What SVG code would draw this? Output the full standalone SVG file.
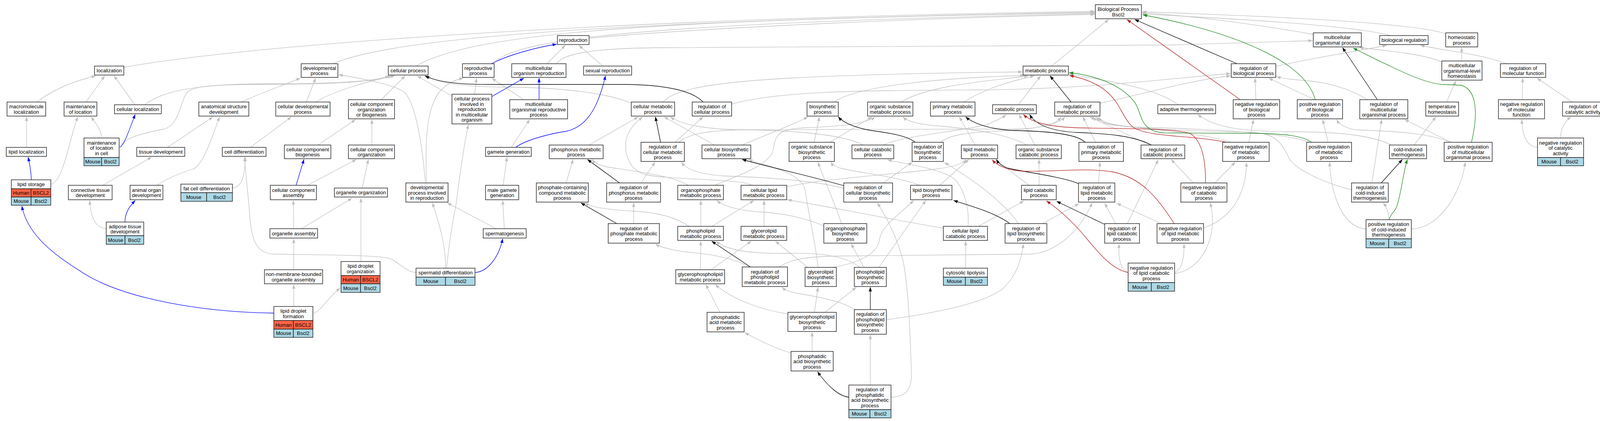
<svg xmlns="http://www.w3.org/2000/svg" width="4120" height="1077" viewBox="0 0 4120 1077">
<style>
.n rect{fill:#fff;stroke:#1a1a1a;stroke-width:1.4}
.n rect.h{fill:#ff6347}
.n rect.m{fill:#add8e6}
text{font-family:"Liberation Sans",Arial,sans-serif;font-size:13px;text-anchor:middle;dominant-baseline:central;fill:#000}
.e{fill:none;stroke-width:1.3}
.g{stroke:#c0c0c0;marker-end:url(#mg)}
.k{stroke:#000;marker-end:url(#mk)}
.r{stroke:#b22222;marker-end:url(#mr)}
.v{stroke:#228b22;marker-end:url(#mv)}
.b{stroke:#0000ff;marker-end:url(#mb)}
</style>
<defs>
<marker id="mg" viewBox="0 0 11 8" refX="10.5" refY="4" markerWidth="11" markerHeight="8" markerUnits="userSpaceOnUse" orient="auto"><path d="M0,0L11,4L0,8z" fill="#c0c0c0"/></marker>
<marker id="mk" viewBox="0 0 11 8" refX="10.5" refY="4" markerWidth="11" markerHeight="8" markerUnits="userSpaceOnUse" orient="auto"><path d="M0,0L11,4L0,8z" fill="#000"/></marker>
<marker id="mr" viewBox="0 0 11 8" refX="10.5" refY="4" markerWidth="11" markerHeight="8" markerUnits="userSpaceOnUse" orient="auto"><path d="M0,0L11,4L0,8z" fill="#b22222"/></marker>
<marker id="mv" viewBox="0 0 11 8" refX="10.5" refY="4" markerWidth="11" markerHeight="8" markerUnits="userSpaceOnUse" orient="auto"><path d="M0,0L11,4L0,8z" fill="#228b22"/></marker>
<marker id="mb" viewBox="0 0 11 8" refX="10.5" refY="4" markerWidth="11" markerHeight="8" markerUnits="userSpaceOnUse" orient="auto"><path d="M0,0L11,4L0,8z" fill="#0000ff"/></marker>
</defs>
<rect x="0" y="0" width="4120" height="1077" fill="#fff"/>
<g id="edges">
<path class="e g" d="M317,172 C700,105 1700,45 2802,29"/>
<path class="e g" d="M852,163 C1000,100 1500,55 2802,31"/>
<path class="e g" d="M1065,169 C1200,90 1600,50 2802,33"/>
<path class="e g" d="M1259,163 C1320,110 1500,62 2802,35"/>
<path class="e g" d="M1508,98 C1800,70 2400,45 2802,37"/>
<path class="e g" d="M2692,169 L2838,50"/>
<path class="e g" d="M3362,88 C3200,60 3050,40 2924,33"/>
<path class="e g" d="M3560,91 C3450,62 3100,45 2924,36"/>
<path class="e g" d="M3701,86 C3600,55 3200,40 2924,30"/>
<path class="e g" d="M1400,163 L1447,116"/>
<path class="e g" d="M1425,163 C1440,140 1500,123 1700,122 L3000,115 C3200,110 3300,106 3360,104"/>
<path class="e g" d="M1543,169 L1482,116"/>
<path class="e g" d="M3742,156 L3742,122"/>
<path class="e g" d="M3690,158 C3650,140 3560,130 3480,122"/>
<path class="e g" d="M3266,170 C3350,150 3480,130 3550,116"/>
<path class="e g" d="M3857,163 C3800,140 3700,130 3636,116"/>
<path class="e g" d="M3502,255 C3450,225 3400,210 3330,205 C3300,203 3280,200 3268,196"/>
<path class="e g" d="M3703,261 L3727,207"/>
<path class="e g" d="M3897,255 L3898,200"/>
<path class="e g" d="M4025,261 L3935,200"/>
<path class="e g" d="M3715,364 L3596,306"/>
<path class="e g" d="M3712,364 C3660,340 3560,335 3470,332 C3445,328 3428,318 3422,306"/>
<path class="e g" d="M95,261 C140,225 200,205 245,194"/>
<path class="e g" d="M220,261 L268,194"/>
<path class="e g" d="M345,268 L292,194"/>
<path class="e g" d="M371,267 C410,240 470,214 700,214 C900,214 965,205 997,194"/>
<path class="e g" d="M618,261 C650,245 720,220 769,200"/>
<path class="e g" d="M784,261 L808,200"/>
<path class="e g" d="M809,261 C850,235 930,210 1011,194"/>
<path class="e g" d="M976,255 L1037,194"/>
<path class="e g" d="M1157,246 L1068,194"/>
<path class="e g" d="M1215,241 L1220,200"/>
<path class="e g" d="M1341,255 L1259,200"/>
<path class="e g" d="M1616,264 C1560,240 1450,224 1300,223 C1180,222 1120,212 1092,194"/>
<path class="e g" d="M1697,261 C1740,215 1900,192 2617,184"/>
<path class="e g" d="M1873,266 C2000,232 2200,232 2500,230 C2800,228 3000,200 3150,188"/>
<path class="e g" d="M2136,261 C2200,215 2450,198 2622,193"/>
<path class="e g" d="M2307,261 C2380,215 2560,205 2632,194"/>
<path class="e g" d="M2469,261 C2520,225 2600,205 2648,194"/>
<path class="e g" d="M2607,268 L2664,194"/>
<path class="e g" d="M2816,264 C2950,235 3050,205 3150,194"/>
<path class="e g" d="M3016,268 C2960,225 2830,205 2737,190"/>
<path class="e g" d="M3215,255 L3213,200"/>
<path class="e g" d="M3365,255 L3248,200"/>
<path class="e g" d="M260,353 C259,330 245,315 233,299"/>
<path class="e g" d="M306,375 C320,350 380,338 420,330 C460,320 460,260 480,235 C500,218 560,216 700,216 C900,215 970,206 1003,194"/>
<path class="e g" d="M68,377 L68,299"/>
<path class="e g" d="M429,377 L545,299"/>
<path class="e g" d="M641,377 L746,299"/>
<path class="e g" d="M814,371 L910,306"/>
<path class="e g" d="M952,371 L952,306"/>
<path class="e g" d="M1309,377 L1356,306"/>
<path class="e g" d="M1508,371 L1634,299"/>
<path class="e g" d="M1728,364 L1800,299"/>
<path class="e g" d="M1737,364 C1760,345 1800,334 1900,332 L2600,330 C2680,328 2705,315 2716,299"/>
<path class="e g" d="M1829,371 L1700,299"/>
<path class="e g" d="M1900,371 C1960,345 2030,320 2068,299"/>
<path class="e g" d="M2084,364 L2098,299"/>
<path class="e g" d="M2125,364 L2232,299"/>
<path class="e g" d="M2210,371 C2150,340 2000,333 1900,332 C1800,331 1745,318 1716,299"/>
<path class="e g" d="M2261,371 C2320,345 2450,338 2520,320 C2550,310 2568,300 2575,293"/>
<path class="e g" d="M2408,364 C2430,345 2480,338 2560,335 C2650,331 2710,318 2726,299"/>
<path class="e g" d="M2496,371 L2456,299"/>
<path class="e g" d="M2629,371 C2580,345 2500,330 2400,322 C2350,318 2322,310 2312,299"/>
<path class="e g" d="M2649,371 L2609,293"/>
<path class="e g" d="M2805,364 L2772,299"/>
<path class="e g" d="M2943,371 L2790,299"/>
<path class="e g" d="M3152,364 C3100,345 2950,330 2850,320 C2820,315 2805,308 2798,299"/>
<path class="e g" d="M3197,364 L3209,306"/>
<path class="e g" d="M3358,366 C3300,340 3100,330 2900,325 C2840,320 2815,310 2806,299"/>
<path class="e g" d="M3400,364 L3386,306"/>
<path class="e g" d="M3562,371 C3510,345 3420,337 3300,337 C3150,337 3100,318 3066,293"/>
<path class="e g" d="M3620,371 L3676,299"/>
<path class="e g" d="M3936,377 C3910,375 3897,350 3896,306"/>
<path class="e g" d="M3995,353 C3995,330 4005,310 4022,299"/>
<path class="e g" d="M131,471 C150,468 165,420 178,370 C186,340 193,315 199,299"/>
<path class="e g" d="M263,474 L388,402"/>
<path class="e g" d="M402,474 C430,455 470,440 495,432 C520,420 540,360 562,299"/>
<path class="e g" d="M596,481 C615,479 627,460 628,402"/>
<path class="e g" d="M787,474 L912,408"/>
<path class="e g" d="M927,481 L943,408"/>
<path class="e g" d="M1089,468 C1082,380 1065,260 1033,234 C1000,214 920,200 867,191"/>
<path class="e g" d="M1092,468 C1088,370 1090,280 1125,235 C1145,212 1165,204 1186,200"/>
<path class="e g" d="M1288,474 L1298,402"/>
<path class="e g" d="M1449,468 L1467,408"/>
<path class="e g" d="M1641,468 L1677,415"/>
<path class="e g" d="M1762,474 C1720,450 1640,440 1560,428 C1535,424 1522,416 1515,408"/>
<path class="e g" d="M1829,474 C1900,445 1975,420 1980,380 C1985,340 2000,330 2060,327 C2150,323 2215,318 2240,299"/>
<path class="e g" d="M1925,474 C1900,457 1700,460 1650,446 C1605,432 1595,380 1605,350 C1615,322 1632,310 1645,299"/>
<path class="e g" d="M2014,478 C2100,458 2300,445 2400,432 C2450,425 2468,416 2473,408"/>
<path class="e g" d="M2261,468 L2335,415"/>
<path class="e g" d="M2160,482 C2100,465 2000,455 1850,450 C1780,445 1755,430 1745,415"/>
<path class="e g" d="M2406,474 L2480,408"/>
<path class="e g" d="M2355,474 C2300,452 2200,442 2150,430 C2138,425 2130,420 2127,415"/>
<path class="e g" d="M2634,474 L2548,408"/>
<path class="e g" d="M2660,474 L2660,408"/>
<path class="e g" d="M2812,468 L2816,415"/>
<path class="e g" d="M3055,468 L2998,408"/>
<path class="e g" d="M3110,468 L3162,415"/>
<path class="e g" d="M3512,468 L3537,306"/>
<path class="e g" d="M3460,485 C3420,478 3320,440 3300,405 C3280,360 3260,340 3200,338 C3050,335 2900,330 2840,316 C2825,312 2816,306 2812,299"/>
<path class="e g" d="M272,585 C245,582 232,560 230,513"/>
<path class="e g" d="M772,585 L901,507"/>
<path class="e g" d="M752,585 L751,513"/>
<path class="e g" d="M1291,585 L1287,513"/>
<path class="e g" d="M1270,585 L1145,519"/>
<path class="e g" d="M1622,572 L1622,519"/>
<path class="e g" d="M1764,579 C1730,555 1680,543 1620,540 C1550,536 1515,530 1497,519"/>
<path class="e g" d="M1794,579 L1794,513"/>
<path class="e g" d="M1822,579 L1930,513"/>
<path class="e g" d="M1956,579 L1956,513"/>
<path class="e g" d="M2109,578 C2060,556 2000,546 1960,543 C1900,540 1857,530 1835,513"/>
<path class="e g" d="M2154,572 C2145,540 2110,460 2094,415"/>
<path class="e g" d="M2415,584 C2250,555 2100,525 2016,511"/>
<path class="e g" d="M2478,579 C2482,540 2470,480 2440,455 C2400,430 2320,420 2272,409"/>
<path class="e g" d="M2505,579 L2621,514"/>
<path class="e g" d="M2607,572 C2580,530 2510,470 2418,416"/>
<path class="e g" d="M2669,572 L2762,521"/>
<path class="e g" d="M2856,572 L2828,520"/>
<path class="e g" d="M2886,572 L2965,409"/>
<path class="e g" d="M2973,572 L2859,520"/>
<path class="e g" d="M3081,583 C3150,560 3190,500 3191,416"/>
<path class="e g" d="M3556,562 C3555,545 3550,530 3541,519"/>
<path class="e g" d="M3614,586 C3680,585 3740,500 3751,415"/>
<path class="e g" d="M3497,586 C3430,580 3405,480 3404,415"/>
<path class="e g" d="M752,690 L752,611"/>
<path class="e g" d="M924,669 L924,507"/>
<path class="e g" d="M1141,686 C1141,620 1120,560 1107,519"/>
<path class="e g" d="M1143,686 C1150,620 1160,560 1168,520 C1178,440 1190,360 1199,319"/>
<path class="e g" d="M1065,697 C1040,697 1020,668 993,660 C950,652 800,652 700,650 C660,648 645,620 640,560 C636,500 628,440 626,402"/>
<path class="e g" d="M1793,690 L1794,617"/>
<path class="e g" d="M1820,690 L1923,617"/>
<path class="e g" d="M1918,683 C1880,660 1820,650 1760,645 C1720,640 1690,632 1678,624"/>
<path class="e g" d="M1993,684 C2020,665 2060,656 2150,655 L2640,650 C2700,645 2760,600 2796,519"/>
<path class="e g" d="M2068,684 L1985,617"/>
<path class="e g" d="M2132,684 C2200,672 2248,650 2252,610 C2258,578 2300,550 2339,513"/>
<path class="e g" d="M2094,684 C2088,620 2068,540 2062,490 C2055,440 1960,425 1916,408"/>
<path class="e g" d="M2201,684 C2170,657 2110,646 2020,648 C1920,650 1860,640 1833,617"/>
<path class="e g" d="M2212,684 L2179,624"/>
<path class="e g" d="M2250,684 L2370,513"/>
<path class="e g" d="M2472,686 L2472,617"/>
<path class="e g" d="M2888,697 C2868,690 2862,660 2865,624"/>
<path class="e g" d="M3007,697 C3025,692 3032,660 3031,624"/>
<path class="e g" d="M3007,700 C3080,690 3120,600 3098,519"/>
<path class="e g" d="M752,784 L752,728"/>
<path class="e g" d="M803,801 C820,798 840,760 871,737"/>
<path class="e g" d="M1843,799 L1807,728"/>
<path class="e g" d="M2017,803 C1960,795 1880,770 1831,728"/>
<path class="e g" d="M2085,799 L2094,735"/>
<path class="e g" d="M2112,799 L2192,735"/>
<path class="e g" d="M2188,792 C2160,772 2100,760 2050,752 C2025,748 2010,742 2002,735"/>
<path class="e g" d="M2269,818 C2400,800 2520,775 2565,740 C2605,705 2615,660 2620,624"/>
<path class="e g" d="M2079,899 L2079,850"/>
<path class="e g" d="M2025,903 C1990,893 1945,872 1907,851"/>
<path class="e g" d="M2228,985 L2228,857"/>
<path class="e g" d="M2282,1016 C2325,1015 2335,990 2333,950 C2330,850 2325,720 2310,660 C2290,590 2265,550 2246,519"/>
<path class="e k" d="M3167,163 L2905,50"/>
<path class="e k" d="M3526,255 L3437,122"/>
<path class="e k" d="M1800,261 C1770,230 1700,217 1600,216 L1250,216 C1150,216 1110,205 1088,194"/>
<path class="e k" d="M2742,261 L2688,194"/>
<path class="e k" d="M1691,364 L1678,299"/>
<path class="e k" d="M2343,364 C2320,345 2260,338 2225,333 C2190,326 2160,315 2146,299"/>
<path class="e k" d="M2778,364 C2760,345 2700,336 2600,334 C2540,332 2495,318 2472,299"/>
<path class="e k" d="M2948,371 C2900,346 2830,342 2760,339 C2690,336 2650,318 2636,293"/>
<path class="e k" d="M1586,468 L1504,408"/>
<path class="e k" d="M2160,475 C2080,452 1980,430 1900,408"/>
<path class="e k" d="M2762,470 C2720,452 2620,440 2580,430 C2565,425 2556,418 2551,408"/>
<path class="e k" d="M3536,468 L3590,408"/>
<path class="e k" d="M1579,572 L1487,519"/>
<path class="e k" d="M2585,572 C2550,545 2480,525 2441,513"/>
<path class="e k" d="M2828,574 L2705,515"/>
<path class="e k" d="M1921,683 L1822,617"/>
<path class="e k" d="M2228,792 L2228,735"/>
<path class="e k" d="M2173,1016 C2150,1014 2120,990 2093,951"/>
<path class="e r" d="M3175,255 L2885,50"/>
<path class="e r" d="M3140,364 C3050,345 2940,352 2900,325 C2860,290 2870,220 2738,193"/>
<path class="e r" d="M3086,468 C3087,420 3080,360 3046,341 C3000,328 2900,330 2760,327 C2680,324 2640,312 2620,293"/>
<path class="e r" d="M3006,572 C2960,500 2920,455 2850,440 C2780,428 2700,440 2620,438 C2580,436 2555,425 2540,409"/>
<path class="e r" d="M2888,697 C2850,690 2820,655 2790,620 C2750,570 2710,535 2679,514"/>
<path class="e v" d="M3367,255 C3345,170 3200,90 2926,38"/>
<path class="e v" d="M3358,364 C3330,345 3280,342 3200,341 L2980,340 C2915,335 2925,290 2905,262 C2870,215 2800,192 2737,186"/>
<path class="e v" d="M3767,364 C3782,300 3785,230 3740,218 L3690,216 C3640,212 3560,170 3464,123"/>
<path class="e v" d="M3556,562 C3560,545 3575,540 3578,520 C3590,480 3592,440 3603,408"/>
<path class="e b" d="M80,460 C80,440 76,420 72,402"/>
<path class="e b" d="M307,377 C318,370 328,340 346,293"/>
<path class="e b" d="M320,567 C320,545 330,530 346,513"/>
<path class="e b" d="M758,474 L778,408"/>
<path class="e b" d="M1259,163 C1300,140 1380,120 1425,113"/>
<path class="e b" d="M1259,247 L1341,200"/>
<path class="e b" d="M1380,255 L1380,200"/>
<path class="e b" d="M1320,377 C1350,355 1420,340 1449,336 C1500,325 1530,280 1550,194"/>
<path class="e b" d="M1217,697 C1245,695 1275,665 1287,611"/>
<path class="e b" d="M701,801 C500,798 300,760 200,690 C120,640 68,590 56,527"/>
</g>
<g id="bp" class="n"><rect x="2804" y="12" width="118" height="36"/><text><tspan x="2863" y="23.25">Biological Process</tspan><tspan x="2863" y="36.75">Bscl2</tspan></text></g>
<g id="reproduction" class="n"><rect x="1427" y="91" width="81" height="23"/><text x="1467.5" y="102.5">reproduction</text></g>
<g id="multicellular-organismal-process" class="n"><rect x="3362" y="84" width="123" height="36"/><text><tspan x="3423.5" y="95.25">multicellular</tspan><tspan x="3423.5" y="108.75">organismal process</tspan></text></g>
<g id="biological-regulation" class="n"><rect x="3532" y="91" width="124" height="23"/><text x="3594" y="102.5">biological regulation</text></g>
<g id="homeostatic-process" class="n"><rect x="3701" y="84" width="82" height="36"/><text><tspan x="3742" y="95.25">homeostatic</tspan><tspan x="3742" y="108.75">process</tspan></text></g>
<g id="localization" class="n"><rect x="242" y="169" width="75" height="23"/><text x="279.5" y="180.5">localization</text></g>
<g id="developmental-process" class="n"><rect x="771" y="163" width="94" height="35"/><text><tspan x="818" y="173.75">developmental</tspan><tspan x="818" y="187.25">process</tspan></text></g>
<g id="cellular-process" class="n"><rect x="994" y="169" width="102" height="23"/><text x="1045" y="180.5">cellular process</text></g>
<g id="reproductive-process" class="n"><rect x="1184" y="163" width="81" height="35"/><text><tspan x="1224.5" y="173.75">reproductive</tspan><tspan x="1224.5" y="187.25">process</tspan></text></g>
<g id="multicellular-organism-reproduction" class="n"><rect x="1310" y="163" width="139" height="35"/><text><tspan x="1379.5" y="173.75">multicellular</tspan><tspan x="1379.5" y="187.25">organism reproduction</tspan></text></g>
<g id="sexual-reproduction" class="n"><rect x="1494" y="169" width="123" height="23"/><text x="1555.5" y="180.5">sexual reproduction</text></g>
<g id="metabolic-process" class="n"><rect x="2619" y="169" width="116" height="23"/><text x="2677" y="180.5">metabolic process</text></g>
<g id="regulation-of-biological-process" class="n"><rect x="3152" y="163" width="114" height="35"/><text><tspan x="3209" y="173.75">regulation of</tspan><tspan x="3209" y="187.25">biological process</tspan></text></g>
<g id="multicellular-organismal-level-homeostasis" class="n"><rect x="3691" y="156" width="103" height="49"/><text><tspan x="3742.5" y="167">multicellular</tspan><tspan x="3742.5" y="180.5">organismal-level</tspan><tspan x="3742.5" y="194">homeostasis</tspan></text></g>
<g id="regulation-of-molecular-function" class="n"><rect x="3841" y="163" width="116" height="35"/><text><tspan x="3899" y="173.75">regulation of</tspan><tspan x="3899" y="187.25">molecular function</tspan></text></g>
<g id="macromolecule-localization" class="n"><rect x="18" y="261" width="99" height="36"/><text><tspan x="67.5" y="272.25">macromolecule</tspan><tspan x="67.5" y="285.75">localization</tspan></text></g>
<g id="maintenance-of-location" class="n"><rect x="164" y="261" width="84" height="36"/><text><tspan x="206" y="272.25">maintenance</tspan><tspan x="206" y="285.75">of location</tspan></text></g>
<g id="cellular-localization" class="n"><rect x="293" y="268" width="120" height="23"/><text x="353" y="279.5">cellular localization</text></g>
<g id="anatomical-structure-development" class="n"><rect x="509" y="261" width="128" height="36"/><text><tspan x="573" y="272.25">anatomical structure</tspan><tspan x="573" y="285.75">development</tspan></text></g>
<g id="cellular-developmental-process" class="n"><rect x="706" y="261" width="139" height="36"/><text><tspan x="775.5" y="272.25">cellular developmental</tspan><tspan x="775.5" y="285.75">process</tspan></text></g>
<g id="cellular-component-organization-or-biogenesis" class="n"><rect x="892" y="255" width="118" height="49"/><text><tspan x="951" y="266">cellular component</tspan><tspan x="951" y="279.5">organization</tspan><tspan x="951" y="293">or biogenesis</tspan></text></g>
<g id="cellular-process-involved-in-reproduction" class="n"><rect x="1157" y="241" width="102" height="76"/><text><tspan x="1208" y="252">cellular process</tspan><tspan x="1208" y="265.5">involved in</tspan><tspan x="1208" y="279">reproduction</tspan><tspan x="1208" y="292.5">in multicellular</tspan><tspan x="1208" y="306">organism</tspan></text></g>
<g id="multicellular-organismal-reproductive-process" class="n"><rect x="1305" y="255" width="148" height="49"/><text><tspan x="1379" y="266">multicellular</tspan><tspan x="1379" y="279.5">organismal reproductive</tspan><tspan x="1379" y="293">process</tspan></text></g>
<g id="cellular-metabolic-process" class="n"><rect x="1616" y="261" width="111" height="36"/><text><tspan x="1671.5" y="272.25">cellular metabolic</tspan><tspan x="1671.5" y="285.75">process</tspan></text></g>
<g id="regulation-of-cellular-process" class="n"><rect x="1772" y="261" width="101" height="36"/><text><tspan x="1822.5" y="272.25">regulation of</tspan><tspan x="1822.5" y="285.75">cellular process</tspan></text></g>
<g id="biosynthetic-process" class="n"><rect x="2066" y="261" width="80" height="36"/><text><tspan x="2106" y="272.25">biosynthetic</tspan><tspan x="2106" y="285.75">process</tspan></text></g>
<g id="organic-substance-metabolic-process" class="n"><rect x="2221" y="261" width="116" height="36"/><text><tspan x="2279" y="272.25">organic substance</tspan><tspan x="2279" y="285.75">metabolic process</tspan></text></g>
<g id="primary-metabolic-process" class="n"><rect x="2382" y="261" width="114" height="36"/><text><tspan x="2439" y="272.25">primary metabolic</tspan><tspan x="2439" y="285.75">process</tspan></text></g>
<g id="catabolic-process" class="n"><rect x="2541" y="268" width="112" height="23"/><text x="2597" y="279.5">catabolic process</text></g>
<g id="regulation-of-metabolic-process" class="n"><rect x="2700" y="261" width="116" height="36"/><text><tspan x="2758" y="272.25">regulation of</tspan><tspan x="2758" y="285.75">metabolic process</tspan></text></g>
<g id="adaptive-thermogenesis" class="n"><rect x="2964" y="268" width="148" height="23"/><text x="3038" y="279.5">adaptive thermogenesis</text></g>
<g id="negative-regulation-of-biological-process" class="n"><rect x="3157" y="255" width="119" height="49"/><text><tspan x="3216.5" y="266">negative regulation</tspan><tspan x="3216.5" y="279.5">of biological</tspan><tspan x="3216.5" y="293">process</tspan></text></g>
<g id="positive-regulation-of-biological-process" class="n"><rect x="3321" y="255" width="116" height="49"/><text><tspan x="3379" y="266">positive regulation</tspan><tspan x="3379" y="279.5">of biological</tspan><tspan x="3379" y="293">process</tspan></text></g>
<g id="regulation-of-multicellular-organismal-process" class="n"><rect x="3481" y="255" width="123" height="49"/><text><tspan x="3542.5" y="266">regulation of</tspan><tspan x="3542.5" y="279.5">multicellular</tspan><tspan x="3542.5" y="293">organismal process</tspan></text></g>
<g id="temperature-homeostasis" class="n"><rect x="3650" y="261" width="84" height="36"/><text><tspan x="3692" y="272.25">temperature</tspan><tspan x="3692" y="285.75">homeostasis</tspan></text></g>
<g id="negative-regulation-of-molecular-function" class="n"><rect x="3836" y="255" width="118" height="49"/><text><tspan x="3895" y="266">negative regulation</tspan><tspan x="3895" y="279.5">of molecular</tspan><tspan x="3895" y="293">function</tspan></text></g>
<g id="regulation-of-catalytic-activity" class="n"><rect x="4000" y="261" width="105" height="36"/><text><tspan x="4052.5" y="272.25">regulation of</tspan><tspan x="4052.5" y="285.75">catalytic activity</tspan></text></g>
<g id="maintenance-of-location-in-cell" class="n"><rect x="215" y="353" width="90" height="50"/><rect class="m" x="215" y="403" width="45" height="21"/><rect class="m" x="260" y="403" width="45" height="21"/><text><tspan x="260" y="364.5">maintenance</tspan><tspan x="260" y="378">of location</tspan><tspan x="260" y="391.5">in cell</tspan></text><text x="237.5" y="413.5">Mouse</text><text x="282.5" y="413.5">Bscl2</text></g>
<g id="lipid-localization" class="n"><rect x="16" y="377" width="103" height="23"/><text x="67.5" y="388.5">lipid localization</text></g>
<g id="tissue-development" class="n"><rect x="350" y="377" width="123" height="23"/><text x="411.5" y="388.5">tissue development</text></g>
<g id="cell-differentiation" class="n"><rect x="569" y="377" width="112" height="23"/><text x="625" y="388.5">cell differentiation</text></g>
<g id="cellular-component-biogenesis" class="n"><rect x="728" y="371" width="119" height="35"/><text><tspan x="787.5" y="381.75">cellular component</tspan><tspan x="787.5" y="395.25">biogenesis</tspan></text></g>
<g id="cellular-component-organization" class="n"><rect x="892" y="371" width="118" height="35"/><text><tspan x="951" y="381.75">cellular component</tspan><tspan x="951" y="395.25">organization</tspan></text></g>
<g id="gamete-generation" class="n"><rect x="1243" y="377" width="117" height="23"/><text x="1301.5" y="388.5">gamete generation</text></g>
<g id="phosphorus-metabolic-process" class="n"><rect x="1406" y="371" width="138" height="35"/><text><tspan x="1475" y="381.75">phosphorus metabolic</tspan><tspan x="1475" y="395.25">process</tspan></text></g>
<g id="regulation-of-cellular-metabolic-process" class="n"><rect x="1641" y="364" width="111" height="49"/><text><tspan x="1696.5" y="375">regulation of</tspan><tspan x="1696.5" y="388.5">cellular metabolic</tspan><tspan x="1696.5" y="402">process</tspan></text></g>
<g id="cellular-biosynthetic-process" class="n"><rect x="1797" y="371" width="125" height="35"/><text><tspan x="1859.5" y="381.75">cellular biosynthetic</tspan><tspan x="1859.5" y="395.25">process</tspan></text></g>
<g id="organic-substance-biosynthetic-process" class="n"><rect x="2020" y="364" width="116" height="49"/><text><tspan x="2078" y="375">organic substance</tspan><tspan x="2078" y="388.5">biosynthetic</tspan><tspan x="2078" y="402">process</tspan></text></g>
<g id="cellular-catabolic-process" class="n"><rect x="2181" y="371" width="107" height="35"/><text><tspan x="2234.5" y="381.75">cellular catabolic</tspan><tspan x="2234.5" y="395.25">process</tspan></text></g>
<g id="regulation-of-biosynthetic-process" class="n"><rect x="2335" y="364" width="80" height="49"/><text><tspan x="2375" y="375">regulation of</tspan><tspan x="2375" y="388.5">biosynthetic</tspan><tspan x="2375" y="402">process</tspan></text></g>
<g id="lipid-metabolic-process" class="n"><rect x="2461" y="371" width="93" height="35"/><text><tspan x="2507.5" y="381.75">lipid metabolic</tspan><tspan x="2507.5" y="395.25">process</tspan></text></g>
<g id="organic-substance-catabolic-process" class="n"><rect x="2601" y="371" width="116" height="35"/><text><tspan x="2659" y="381.75">organic substance</tspan><tspan x="2659" y="395.25">catabolic process</tspan></text></g>
<g id="regulation-of-primary-metabolic-process" class="n"><rect x="2762" y="364" width="114" height="49"/><text><tspan x="2819" y="375">regulation of</tspan><tspan x="2819" y="388.5">primary metabolic</tspan><tspan x="2819" y="402">process</tspan></text></g>
<g id="regulation-of-catabolic-process" class="n"><rect x="2921" y="371" width="112" height="35"/><text><tspan x="2977" y="381.75">regulation of</tspan><tspan x="2977" y="395.25">catabolic process</tspan></text></g>
<g id="negative-regulation-of-metabolic-process" class="n"><rect x="3130" y="364" width="119" height="49"/><text><tspan x="3189.5" y="375">negative regulation</tspan><tspan x="3189.5" y="388.5">of metabolic</tspan><tspan x="3189.5" y="402">process</tspan></text></g>
<g id="positive-regulation-of-metabolic-process" class="n"><rect x="3345" y="364" width="115" height="49"/><text><tspan x="3402.5" y="375">positive regulation</tspan><tspan x="3402.5" y="388.5">of metabolic</tspan><tspan x="3402.5" y="402">process</tspan></text></g>
<g id="cold-induced-thermogenesis" class="n"><rect x="3557" y="371" width="95" height="35"/><text><tspan x="3604.5" y="381.75">cold-induced</tspan><tspan x="3604.5" y="395.25">thermogenesis</tspan></text></g>
<g id="positive-regulation-of-multicellular-organismal-process" class="n"><rect x="3697" y="364" width="123" height="49"/><text><tspan x="3758.5" y="375">positive regulation</tspan><tspan x="3758.5" y="388.5">of multicellular</tspan><tspan x="3758.5" y="402">organismal process</tspan></text></g>
<g id="negative-regulation-of-catalytic-activity" class="n"><rect x="3936" y="353" width="118" height="50"/><rect class="m" x="3936" y="403" width="59" height="21"/><rect class="m" x="3995" y="403" width="59" height="21"/><text><tspan x="3995" y="364.5">negative regulation</tspan><tspan x="3995" y="378">of catalytic</tspan><tspan x="3995" y="391.5">activity</tspan></text><text x="3965.5" y="413.5">Mouse</text><text x="4024.5" y="413.5">Bscl2</text></g>
<g id="lipid-storage" class="n"><rect x="29" y="460" width="101" height="23"/><rect class="h" x="29" y="483" width="50.5" height="21"/><rect class="h" x="79.5" y="483" width="50.5" height="21"/><rect class="m" x="29" y="504" width="50.5" height="21"/><rect class="m" x="79.5" y="504" width="50.5" height="21"/><text x="79.5" y="471.5">lipid storage</text><text x="54.25" y="493.5">Human</text><text x="104.75" y="493.5">BSCL2</text><text x="54.25" y="514.5">Mouse</text><text x="104.75" y="514.5">Bscl2</text></g>
<g id="connective-tissue-development" class="n"><rect x="175" y="474" width="112" height="37"/><text><tspan x="231" y="485.75">connective tissue</tspan><tspan x="231" y="499.25">development</tspan></text></g>
<g id="animal-organ-development" class="n"><rect x="333" y="474" width="84" height="37"/><text><tspan x="375" y="485.75">animal organ</tspan><tspan x="375" y="499.25">development</tspan></text></g>
<g id="fat-cell-differentiation" class="n"><rect x="463" y="471" width="132" height="22"/><rect class="m" x="463" y="493" width="66" height="22"/><rect class="m" x="529" y="493" width="66" height="22"/><text x="529" y="482">fat cell differentiation</text><text x="496" y="504">Mouse</text><text x="562" y="504">Bscl2</text></g>
<g id="cellular-component-assembly" class="n"><rect x="692" y="474" width="118" height="37"/><text><tspan x="751" y="485.75">cellular component</tspan><tspan x="751" y="499.25">assembly</tspan></text></g>
<g id="organelle-organization" class="n"><rect x="856" y="481" width="136" height="23"/><text x="924" y="492.5">organelle organization</text></g>
<g id="developmental-process-involved-in-reproduction" class="n"><rect x="1039" y="468" width="108" height="49"/><text><tspan x="1093" y="479">developmental</tspan><tspan x="1093" y="492.5">process involved</tspan><tspan x="1093" y="506">in reproduction</tspan></text></g>
<g id="male-gamete-generation" class="n"><rect x="1243" y="474" width="85" height="37"/><text><tspan x="1285.5" y="485.75">male gamete</tspan><tspan x="1285.5" y="499.25">generation</tspan></text></g>
<g id="phosphate-containing-compound-metabolic-process" class="n"><rect x="1373" y="468" width="133" height="49"/><text><tspan x="1439.5" y="479">phosphate-containing</tspan><tspan x="1439.5" y="492.5">compound metabolic</tspan><tspan x="1439.5" y="506">process</tspan></text></g>
<g id="regulation-of-phosphorus-metabolic-process" class="n"><rect x="1553" y="468" width="138" height="49"/><text><tspan x="1622" y="479">regulation of</tspan><tspan x="1622" y="492.5">phosphorus metabolic</tspan><tspan x="1622" y="506">process</tspan></text></g>
<g id="organophosphate-metabolic-process" class="n"><rect x="1735" y="474" width="117" height="37"/><text><tspan x="1793.5" y="485.75">organophosphate</tspan><tspan x="1793.5" y="499.25">metabolic process</tspan></text></g>
<g id="cellular-lipid-metabolic-process" class="n"><rect x="1897" y="474" width="117" height="37"/><text><tspan x="1955.5" y="485.75">cellular lipid</tspan><tspan x="1955.5" y="499.25">metabolic process</tspan></text></g>
<g id="regulation-of-cellular-biosynthetic-process" class="n"><rect x="2160" y="468" width="125" height="49"/><text><tspan x="2222.5" y="479">regulation of</tspan><tspan x="2222.5" y="492.5">cellular biosynthetic</tspan><tspan x="2222.5" y="506">process</tspan></text></g>
<g id="lipid-biosynthetic-process" class="n"><rect x="2331" y="474" width="106" height="37"/><text><tspan x="2384" y="485.75">lipid biosynthetic</tspan><tspan x="2384" y="499.25">process</tspan></text></g>
<g id="lipid-catabolic-process" class="n"><rect x="2615" y="474" width="89" height="37"/><text><tspan x="2659.5" y="485.75">lipid catabolic</tspan><tspan x="2659.5" y="499.25">process</tspan></text></g>
<g id="regulation-of-lipid-metabolic-process" class="n"><rect x="2761" y="468" width="93" height="49"/><text><tspan x="2807.5" y="479">regulation of</tspan><tspan x="2807.5" y="492.5">lipid metabolic</tspan><tspan x="2807.5" y="506">process</tspan></text></g>
<g id="negative-regulation-of-catabolic-process" class="n"><rect x="3023" y="468" width="118" height="49"/><text><tspan x="3082" y="479">negative regulation</tspan><tspan x="3082" y="492.5">of catabolic</tspan><tspan x="3082" y="506">process</tspan></text></g>
<g id="regulation-of-cold-induced-thermogenesis" class="n"><rect x="3460" y="468" width="94" height="49"/><text><tspan x="3507" y="479">regulation of</tspan><tspan x="3507" y="492.5">cold-induced</tspan><tspan x="3507" y="506">thermogenesis</tspan></text></g>
<g id="adipose-tissue-development" class="n"><rect x="272" y="568" width="96" height="35"/><rect class="m" x="272" y="603" width="48" height="22"/><rect class="m" x="320" y="603" width="48" height="22"/><text><tspan x="320" y="578.75">adipose tissue</tspan><tspan x="320" y="592.25">development</tspan></text><text x="296" y="614">Mouse</text><text x="344" y="614">Bscl2</text></g>
<g id="organelle-assembly" class="n"><rect x="691" y="585" width="122" height="24"/><text x="752" y="597">organelle assembly</text></g>
<g id="spermatogenesis" class="n"><rect x="1237" y="585" width="110" height="24"/><text x="1292" y="597">spermatogenesis</text></g>
<g id="regulation-of-phosphate-metabolic-process" class="n"><rect x="1557" y="572" width="131" height="50"/><text><tspan x="1622.5" y="583.5">regulation of</tspan><tspan x="1622.5" y="597">phosphate metabolic</tspan><tspan x="1622.5" y="610.5">process</tspan></text></g>
<g id="phospholipid-metabolic-process" class="n"><rect x="1735" y="579" width="117" height="36"/><text><tspan x="1793.5" y="590.25">phospholipid</tspan><tspan x="1793.5" y="603.75">metabolic process</tspan></text></g>
<g id="glycerolipid-metabolic-process" class="n"><rect x="1897" y="579" width="117" height="36"/><text><tspan x="1955.5" y="590.25">glycerolipid</tspan><tspan x="1955.5" y="603.75">metabolic process</tspan></text></g>
<g id="organophosphate-biosynthetic-process" class="n"><rect x="2109" y="572" width="110" height="50"/><text><tspan x="2164" y="583.5">organophosphate</tspan><tspan x="2164" y="597">biosynthetic</tspan><tspan x="2164" y="610.5">process</tspan></text></g>
<g id="cellular-lipid-catabolic-process" class="n"><rect x="2415" y="579" width="113" height="36"/><text><tspan x="2471.5" y="590.25">cellular lipid</tspan><tspan x="2471.5" y="603.75">catabolic process</tspan></text></g>
<g id="regulation-of-lipid-biosynthetic-process" class="n"><rect x="2573" y="572" width="107" height="50"/><text><tspan x="2626.5" y="583.5">regulation of</tspan><tspan x="2626.5" y="597">lipid biosynthetic</tspan><tspan x="2626.5" y="610.5">process</tspan></text></g>
<g id="regulation-of-lipid-catabolic-process" class="n"><rect x="2828" y="572" width="89" height="50"/><text><tspan x="2872.5" y="583.5">regulation of</tspan><tspan x="2872.5" y="597">lipid catabolic</tspan><tspan x="2872.5" y="610.5">process</tspan></text></g>
<g id="negative-regulation-of-lipid-metabolic-process" class="n"><rect x="2962" y="572" width="119" height="50"/><text><tspan x="3021.5" y="583.5">negative regulation</tspan><tspan x="3021.5" y="597">of lipid metabolic</tspan><tspan x="3021.5" y="610.5">process</tspan></text></g>
<g id="positive-regulation-of-cold-induced-thermogenesis" class="n"><rect x="3497" y="562" width="116" height="49"/><rect class="m" x="3497" y="611" width="58" height="23"/><rect class="m" x="3555" y="611" width="58" height="23"/><text><tspan x="3555" y="573">positive regulation</tspan><tspan x="3555" y="586.5">of cold-induced</tspan><tspan x="3555" y="600">thermogenesis</tspan></text><text x="3526" y="622.5">Mouse</text><text x="3584" y="622.5">Bscl2</text></g>
<g id="non-membrane-bounded-organelle-assembly" class="n"><rect x="677" y="690" width="149" height="36"/><text><tspan x="751.5" y="701.25">non-membrane-bounded</tspan><tspan x="751.5" y="714.75">organelle assembly</tspan></text></g>
<g id="lipid-droplet-organization" class="n"><rect x="873" y="669" width="100" height="36"/><rect class="h" x="873" y="705" width="50" height="21"/><rect class="h" x="923" y="705" width="50" height="21"/><rect class="m" x="873" y="726" width="50" height="22"/><rect class="m" x="923" y="726" width="50" height="22"/><text><tspan x="923" y="680.25">lipid droplet</tspan><tspan x="923" y="693.75">organization</tspan></text><text x="898" y="715.5">Human</text><text x="948" y="715.5">BSCL2</text><text x="898" y="737">Mouse</text><text x="948" y="737">Bscl2</text></g>
<g id="spermatid-differentiation" class="n"><rect x="1065" y="686" width="151" height="23"/><rect class="m" x="1065" y="709" width="75.5" height="21"/><rect class="m" x="1140.5" y="709" width="75.5" height="21"/><text x="1140.5" y="697.5">spermatid differentiation</text><text x="1102.75" y="719.5">Mouse</text><text x="1178.25" y="719.5">Bscl2</text></g>
<g id="glycerophospholipid-metabolic-process" class="n"><rect x="1730" y="690" width="125" height="36"/><text><tspan x="1792.5" y="701.25">glycerophospholipid</tspan><tspan x="1792.5" y="714.75">metabolic process</tspan></text></g>
<g id="regulation-of-phospholipid-metabolic-process" class="n"><rect x="1900" y="683" width="116" height="50"/><text><tspan x="1958" y="694.5">regulation of</tspan><tspan x="1958" y="708">phospholipid</tspan><tspan x="1958" y="721.5">metabolic process</tspan></text></g>
<g id="glycerolipid-biosynthetic-process" class="n"><rect x="2061" y="684" width="80" height="49"/><text><tspan x="2101" y="695">glycerolipid</tspan><tspan x="2101" y="708.5">biosynthetic</tspan><tspan x="2101" y="722">process</tspan></text></g>
<g id="phospholipid-biosynthetic-process" class="n"><rect x="2187" y="684" width="82" height="49"/><text><tspan x="2228" y="695">phospholipid</tspan><tspan x="2228" y="708.5">biosynthetic</tspan><tspan x="2228" y="722">process</tspan></text></g>
<g id="cytosolic-lipolysis" class="n"><rect x="2415" y="686" width="113" height="23"/><rect class="m" x="2415" y="709" width="56.5" height="21"/><rect class="m" x="2471.5" y="709" width="56.5" height="21"/><text x="2471.5" y="697.5">cytosolic lipolysis</text><text x="2443.25" y="719.5">Mouse</text><text x="2499.75" y="719.5">Bscl2</text></g>
<g id="negative-regulation-of-lipid-catabolic-process" class="n"><rect x="2888" y="673" width="119" height="50"/><rect class="m" x="2888" y="723" width="59.5" height="22"/><rect class="m" x="2947.5" y="723" width="59.5" height="22"/><text><tspan x="2947.5" y="684.5">negative regulation</tspan><tspan x="2947.5" y="698">of lipid catabolic</tspan><tspan x="2947.5" y="711.5">process</tspan></text><text x="2917.75" y="734">Mouse</text><text x="2977.25" y="734">Bscl2</text></g>
<g id="lipid-droplet-formation" class="n"><rect x="701" y="784" width="100" height="36"/><rect class="h" x="701" y="820" width="50" height="22"/><rect class="h" x="751" y="820" width="50" height="22"/><rect class="m" x="701" y="842" width="50" height="21"/><rect class="m" x="751" y="842" width="50" height="21"/><text><tspan x="751" y="795.25">lipid droplet</tspan><tspan x="751" y="808.75">formation</tspan></text><text x="726" y="831">Human</text><text x="776" y="831">BSCL2</text><text x="726" y="852.5">Mouse</text><text x="776" y="852.5">Bscl2</text></g>
<g id="phosphatidic-acid-metabolic-process" class="n"><rect x="1810" y="799" width="95" height="50"/><text><tspan x="1857.5" y="810.5">phosphatidic</tspan><tspan x="1857.5" y="824">acid metabolic</tspan><tspan x="1857.5" y="837.5">process</tspan></text></g>
<g id="glycerophospholipid-biosynthetic-process" class="n"><rect x="2017" y="799" width="124" height="49"/><text><tspan x="2079" y="810">glycerophospholipid</tspan><tspan x="2079" y="823.5">biosynthetic</tspan><tspan x="2079" y="837">process</tspan></text></g>
<g id="regulation-of-phospholipid-biosynthetic-process" class="n"><rect x="2187" y="792" width="82" height="63"/><text><tspan x="2228" y="803.25">regulation of</tspan><tspan x="2228" y="816.75">phospholipid</tspan><tspan x="2228" y="830.25">biosynthetic</tspan><tspan x="2228" y="843.75">process</tspan></text></g>
<g id="phosphatidic-acid-biosynthetic-process" class="n"><rect x="2025" y="899" width="108" height="50"/><text><tspan x="2079" y="910.5">phosphatidic</tspan><tspan x="2079" y="924">acid biosynthetic</tspan><tspan x="2079" y="937.5">process</tspan></text></g>
<g id="regulation-of-phosphatidic-acid-biosynthetic-process" class="n"><rect x="2173" y="985" width="108" height="63"/><rect class="m" x="2173" y="1048" width="54" height="21"/><rect class="m" x="2227" y="1048" width="54" height="21"/><text><tspan x="2227" y="996.25">regulation of</tspan><tspan x="2227" y="1009.75">phosphatidic</tspan><tspan x="2227" y="1023.25">acid biosynthetic</tspan><tspan x="2227" y="1036.75">process</tspan></text><text x="2200" y="1058.5">Mouse</text><text x="2254" y="1058.5">Bscl2</text></g>
</svg>
